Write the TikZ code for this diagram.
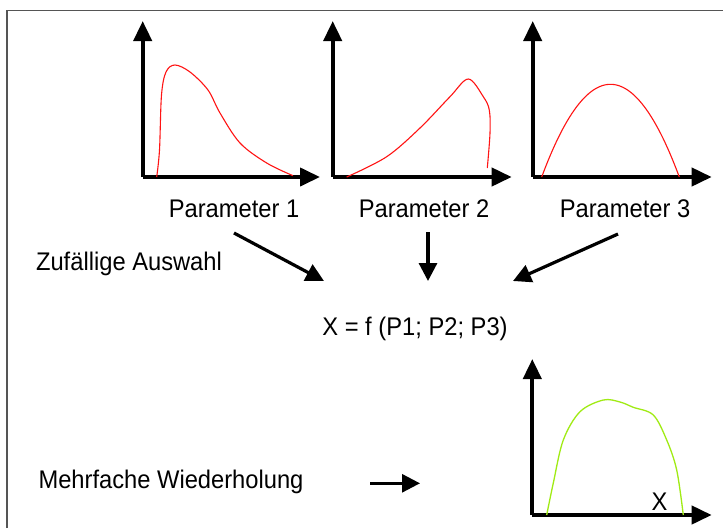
\documentclass[tikz,border=0pt]{standalone}
\usepackage{fontspec}
\setmainfont[FakeStretch=0.93]{Liberation Sans}
\usetikzlibrary{arrows.meta}
\definecolor{framegray}{RGB}{85,85,85}
\definecolor{curvered}{RGB}{255,20,20}
\definecolor{curvegreen}{RGB}{160,235,20}
\begin{document}
\begin{tikzpicture}[x=1pt,y=-1pt,
  axis/.style={line width=4pt,-{Triangle[length=20pt,width=18pt]}},
  bigarrow/.style={line width=3.2pt,-{Triangle[length=18pt,width=18pt]}},
  redcurve/.style={draw=curvered,line width=1.1pt},
  greencurve/.style={draw=curvegreen,line width=1.3pt},
  lbl/.style={font=\fontsize{25.5}{30}\selectfont,anchor=base,inner sep=0pt}]
\useasboundingbox (0,0) rectangle (723,528);
\fill[white] (0,0) rectangle (723,528);
% frame
\draw[framegray,line width=1.4pt] (7,528) -- (7,10.5) -- (723,10.5);

% plot 1
\coordinate (o1) at (142.7,177);
\draw[axis] (o1) -- (142.7,21);
\draw[axis] (o1) -- (320,177);
\draw[redcurve] plot[smooth,tension=0.55] coordinates {(156.7,177) (159.5,150) (161.5,95) (166,72) (175,65) (190,72) (208,90) (220,113) (240,143) (266.7,163) (293,175.7)};

% plot 2
\coordinate (o2) at (332.7,177);
\draw[axis] (o2) -- (332.7,21);
\draw[axis] (o2) -- (511.7,177);
\draw[redcurve] plot[smooth,tension=0.55] coordinates {(346.7,177) (386.7,156.7) (420,128) (450,96.7) (468.3,79) (483.3,96.7) (489.3,110) (490,133) (487.3,168)};

% plot 3
\coordinate (o3) at (532.7,177);
\draw[axis] (o3) -- (532.7,21);
\draw[axis] (o3) -- (711.7,177);
\draw[redcurve] plot[domain=541.7:679.3,samples=60] (\x,{177-92.7*(1-((\x-610.5)/68.8)^2)});

% result plot
\coordinate (o4) at (532.3,515);
\draw[axis] (o4) -- (532.3,359);
\draw[axis] (o4) -- (711.7,515);
\draw[greencurve] plot[smooth,tension=0.55] coordinates {(546.7,515) (553.3,483) (563.3,440) (580,411.7) (603.3,400) (620,402) (633.3,407.3) (653.3,415) (666.7,440) (676.7,470) (683.3,515)};
\node[lbl] (xl) at (659.5,510) {X};

% labels
\node[lbl] (p1) at (234,217) {Parameter 1};
\node[lbl] (p2) at (424,217) {Parameter 2};
\node[lbl] (p3) at (625,217) {Parameter 3};
\node[lbl] (zu) at (129,270) {Zufällige Auswahl};
\node[lbl] (fx) at (415,335) {X = f (P1; P2; P3)};
\node[lbl] (mw) at (171,488) {Mehrfache Wiederholung};

% arrows
\coordinate (a1s) at (234,233);
\coordinate (a1e) at (324,281);
\coordinate (a2s) at (428,232);
\coordinate (a2e) at (428,281);
\coordinate (a3s) at (618,234);
\coordinate (a3e) at (513,281);
\coordinate (a4s) at (370,483.3);
\coordinate (a4e) at (420,483.3);
\draw[bigarrow] (a1s) -- (a1e);
\draw[bigarrow] (a2s) -- (a2e);
\draw[bigarrow] (a3s) -- (a3e);
\draw[bigarrow,line width=2.8pt] (a4s) -- (a4e);
\end{tikzpicture}
\end{document}
